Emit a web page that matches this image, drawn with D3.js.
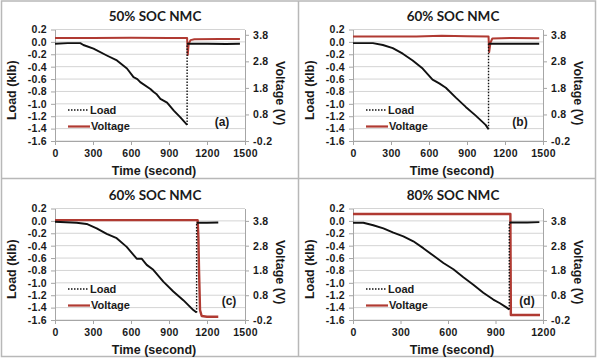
<!DOCTYPE html>
<html><head><meta charset="utf-8">
<script src="https://cdn.jsdelivr.net/npm/d3@7/dist/d3.min.js"></script>
<style>body{margin:0;background:#fff}</style>
</head><body>
<svg id="chart" width="600" height="360"></svg>
<script>
// ---------- data ----------
const titles = ["50% SOC NMC", "60% SOC NMC", "60% SOC NMC", "80% SOC NMC"];
const tags = ["(a)", "(b)", "(c)", "(d)"];
const loadTicks = [0.2, 0.0, -0.2, -0.4, -0.6, -0.8, -1.0, -1.2, -1.4, -1.6];
const voltTicks = [3.8, 2.8, 1.8, 0.8, -0.2];
const timeTicks1500 = [0, 300, 600, 900, 1200, 1500];
const timeTicks1200 = [0, 300, 600, 900, 1200];
const timeMax = [1500, 1500, 1500, 1200];
const voltMax = [4.0, 4.0, 4.3, 4.3];

const loadTimeA = [0, 100, 200, 224, 304, 409, 489, 568, 620, 650, 673, 753, 779, 800, 832, 885, 938, 990, 1043, 1043, 1060, 1200, 1350, 1460];
const loadA = [-0.03, -0.02, -0.02, -0.05, -0.11, -0.22, -0.30, -0.43, -0.57, -0.60, -0.65, -0.76, -0.81, -0.84, -0.92, -0.98, -1.11, -1.22, -1.34, -0.03, -0.03, -0.03, -0.035, -0.03];
const voltTimeA = [0, 300, 600, 900, 1043, 1048, 1055, 1070, 1100, 1300, 1460];
const voltA = [3.68, 3.68, 3.69, 3.68, 3.68, 3.04, 3.45, 3.60, 3.63, 3.64, 3.64];

const loadTimeB = [0, 157, 236, 314, 393, 471, 550, 628, 681, 733, 812, 890, 969, 1047, 1070, 1070, 1085, 1250, 1470];
const loadB = [-0.02, -0.02, -0.05, -0.10, -0.19, -0.30, -0.43, -0.61, -0.67, -0.74, -0.90, -1.05, -1.19, -1.34, -1.41, -0.03, -0.03, -0.03, -0.03];
const voltTimeB = [0, 500, 700, 900, 1070, 1075, 1085, 1100, 1250, 1470];
const voltB = [3.74, 3.74, 3.76, 3.75, 3.74, 3.15, 3.50, 3.66, 3.68, 3.67];

const loadTimeC = [0, 171, 250, 329, 408, 487, 566, 645, 684, 724, 776, 855, 934, 1013, 1092, 1118, 1118, 1139, 1200, 1289];
const loadC = [-0.015, -0.03, -0.05, -0.12, -0.21, -0.28, -0.42, -0.61, -0.61, -0.71, -0.79, -0.98, -1.14, -1.28, -1.44, -1.48, -0.03, -0.03, -0.03, -0.025];
const voltTimeC = [0, 400, 800, 1126, 1132, 1137, 1145, 1158, 1200, 1289];
const voltC = [3.83, 3.83, 3.83, 3.83, 3.16, 1.81, 0.20, -0.04, -0.07, -0.07];

const loadTimeD = [0, 65, 128, 192, 255, 318, 381, 444, 507, 571, 634, 697, 760, 823, 886, 928, 971, 987, 987, 1000, 1100, 1177];
const loadD = [-0.03, -0.03, -0.07, -0.12, -0.19, -0.25, -0.33, -0.44, -0.56, -0.68, -0.78, -0.91, -1.03, -1.16, -1.27, -1.33, -1.40, -1.43, -0.03, -0.025, -0.025, -0.02];
const voltTimeD = [0, 500, 994, 997, 1100, 1181];
const voltD = [4.08, 4.08, 4.08, 0.0, 0.0, 0.0];

const legendNames = ["Load", "Voltage"];
const xTitle = "Time (second)", yTitle = "Load (klb)", y2Title = "Voltage (V)";

const panels = [
  {lt: loadTimeA, lv: loadA, vt: voltTimeA, vv: voltA, ticks: timeTicks1500},
  {lt: loadTimeB, lv: loadB, vt: voltTimeB, vv: voltB, ticks: timeTicks1500},
  {lt: loadTimeC, lv: loadC, vt: voltTimeC, vv: voltC, ticks: timeTicks1500},
  {lt: loadTimeD, lv: loadD, vt: voltTimeD, vv: voltD, ticks: timeTicks1200}
];

// ---------- drawing ----------
const svg = d3.select("#chart");
svg.append("rect").attr("width", 600).attr("height", 360).attr("fill", "#fff");

const FONT = "'Liberation Sans', Arial, sans-serif";
const TFONT = "Lato, 'Liberation Sans', sans-serif";
const RED = "#b03a32";
const AX = "#a6a6a6";
const GRID = "#d4d4d4";
const frame = "#b8b8b8";

// frame lines
const fr = svg.append("g").attr("stroke", frame).attr("stroke-width", 1.5).attr("fill", "none");
fr.append("rect").attr("x", 1.5).attr("y", 1).attr("width", 594).attr("height", 355.5);
fr.append("line").attr("x1", 298.5).attr("x2", 298.5).attr("y1", 1).attr("y2", 356.5);
fr.append("line").attr("x1", 1.5).attr("x2", 595.5).attr("y1", 178.5).attr("y2", 178.5);

panels.forEach((p, i) => {
  const ox = (i % 2) ? 298 : 0, oy = i < 2 ? 0 : 179;
  const L = 55, R = 245, T = 29.5, B = 141;
  const g = svg.append("g").attr("transform", `translate(${ox},${oy})`);
  const x = d3.scaleLinear().domain([0, timeMax[i]]).range([L, R]);
  const yL = d3.scaleLinear().domain([-1.6, 0.2]).range([B, T]);
  const yR = d3.scaleLinear().domain([-0.2, voltMax[i]]).range([B, T]);

  // gridlines
  g.append("g").selectAll("line").data(loadTicks).join("line")
    .attr("x1", L).attr("x2", R)
    .attr("y1", d => yL(d)).attr("y2", d => yL(d))
    .attr("stroke", GRID).attr("stroke-width", 1);

  // axes
  const styleAxis = (a) => {
    a.selectAll("path").attr("stroke", AX).attr("stroke-width", 1);
    a.selectAll("line").attr("stroke", AX);
    a.selectAll("text").attr("font-family", FONT).attr("font-weight", "bold")
      .attr("font-size", 10.5).attr("letter-spacing", 0.3).attr("fill", "#1a1a1a");
  };
  const ax = g.append("g").attr("transform", `translate(0,${B})`)
    .call(d3.axisBottom(x).tickValues(p.ticks).tickSize(4).tickSizeOuter(0).tickPadding(5).tickFormat(d3.format("d")));
  styleAxis(ax);
  const al = g.append("g").attr("transform", `translate(${L},0)`)
    .call(d3.axisLeft(yL).tickValues(loadTicks).tickSize(4).tickSizeOuter(0).tickPadding(4).tickFormat(d => d.toFixed(1)));
  styleAxis(al);
  const ar = g.append("g").attr("transform", `translate(${R},0)`)
    .call(d3.axisRight(yR).tickValues(voltTicks).tickSize(4).tickSizeOuter(0).tickPadding(4).tickFormat(d => d.toFixed(1)));
  styleAxis(ar);

  // voltage line
  const vpts = p.vt.map((t, k) => [x(t), yR(p.vv[k])]);
  g.append("path").attr("d", d3.line()(vpts))
    .attr("fill", "none").attr("stroke", RED).attr("stroke-width", i < 2 ? 2 : 2.4).attr("stroke-linejoin", "round");

  // load line: continuous pieces solid (dense noisy trace), step jumps dotted
  const lpts = p.lt.map((t, k) => [t, p.lv[k]]);
  const runs = [];
  for (let k = 1; k < lpts.length; k++) {
    const jump = Math.abs(lpts[k][0] - lpts[k - 1][0]) < 1;
    const last = runs[runs.length - 1];
    if (last && last.jump === jump) last.pts.push(lpts[k]);
    else runs.push({jump, pts: [lpts[k - 1], lpts[k]]});
  }
  const line = d3.line().x(d => x(d[0])).y(d => yL(d[1]));
  runs.forEach(r => {
    g.append("path").attr("d", line(r.pts)).attr("fill", "none")
      .attr("stroke", "#111").attr("stroke-width", r.jump ? 1.4 : 1.9)
      .attr("stroke-dasharray", r.jump ? "1.5,1.5" : null)
      .attr("stroke-linejoin", "round");
  });

  // legend
  const lg = g.append("g").attr("font-family", FONT).attr("font-weight", "bold").attr("font-size", 11).attr("fill", "#1a1a1a");
  lg.append("line").attr("x1", L + 13).attr("x2", L + 33).attr("y1", T + 80.5).attr("y2", T + 80.5)
    .attr("stroke", "#111").attr("stroke-width", 1.5).attr("stroke-dasharray", "1.5,1.5");
  lg.append("text").attr("x", L + 35).attr("y", T + 80.5).attr("dy", "0.35em").text(legendNames[0]);
  lg.append("line").attr("x1", L + 13).attr("x2", L + 35).attr("y1", T + 97).attr("y2", T + 97)
    .attr("stroke", RED).attr("stroke-width", 2.2);
  lg.append("text").attr("x", L + 36).attr("y", T + 97).attr("dy", "0.35em").text(legendNames[1]);

  // tag
  g.append("text").attr("x", R - (i < 2 ? 23 : 16)).attr("y", T + 92.5).attr("dy", "0.35em")
    .attr("text-anchor", "middle").attr("font-family", FONT).attr("font-weight", "bold")
    .attr("font-size", 12).attr("fill", "#1a1a1a").text(tags[i]);

  // titles
  g.append("text").attr("x", (L + R) / 2 + 5).attr("y", 16.5).attr("dy", "0.35em")
    .attr("text-anchor", "middle").attr("font-family", TFONT).attr("font-weight", "bold")
    .attr("font-size", 13.5).attr("fill", "#1a1a1a").text(titles[i]);
  g.append("text").attr("x", (L + R) / 2 + 4).attr("y", B + 29.5).attr("dy", "0.35em")
    .attr("text-anchor", "middle").attr("font-family", FONT).attr("font-weight", "bold")
    .attr("font-size", 12.5).attr("fill", "#1a1a1a").text(xTitle);
  g.append("text").attr("transform", `translate(12,${(T + B) / 2 + 5}) rotate(-90)`).attr("dy", "0.35em")
    .attr("text-anchor", "middle").attr("font-family", FONT).attr("font-weight", "bold")
    .attr("font-size", 12.5).attr("fill", "#1a1a1a").text(yTitle);
  g.append("text").attr("transform", `translate(${R + 35},${(T + B) / 2 + 8}) rotate(90)`).attr("dy", "0.35em")
    .attr("text-anchor", "middle").attr("font-family", FONT).attr("font-weight", "bold")
    .attr("font-size", 12.5).attr("fill", "#1a1a1a").text(y2Title);
});
</script>
</body></html>
